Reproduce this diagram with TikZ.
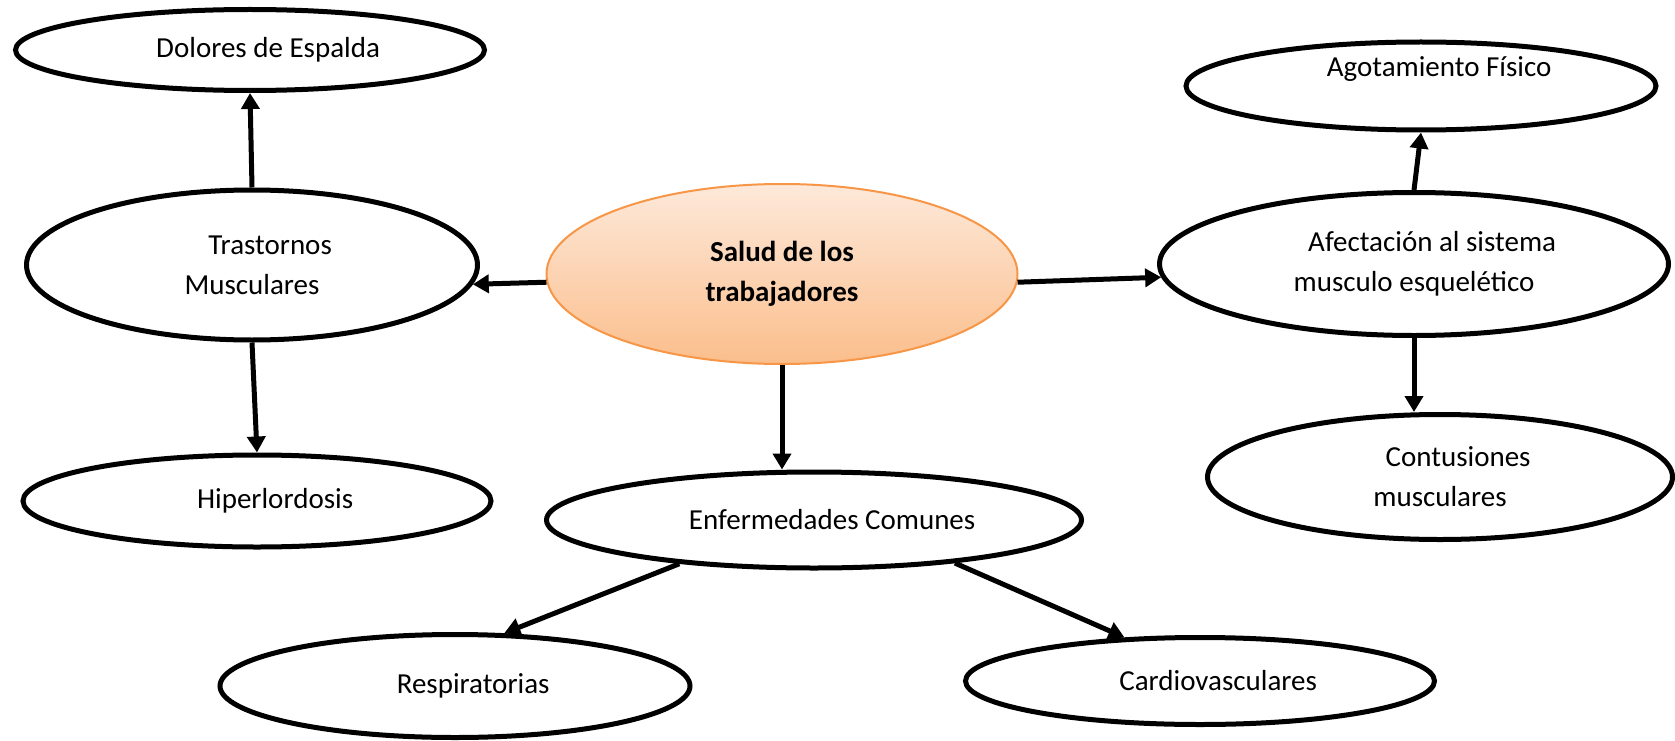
\documentclass[tikz,border=0pt]{standalone}
\usepackage{fontspec}
\setmainfont{Carlito}
\usetikzlibrary{shapes.geometric,arrows.meta}

\definecolor{saludline}{HTML}{F79646}
\definecolor{saludtop}{HTML}{FDE9DA}
\definecolor{saludbot}{HTML}{FBBE8C}
\newcommand{\lpad}{\hspace*{1.25em}}

\begin{document}
\begin{tikzpicture}[x=1pt,y=-1pt,
	oval/.style={ellipse,draw,line width=5pt,inner sep=0pt,align=center,font=\fontsize{29}{40}\selectfont},
	core/.style={oval,draw=saludline,line width=2pt,top color=saludtop,bottom color=saludbot,font=\fontsize{29}{40}\selectfont\bfseries},
	arr/.style={line width=5pt,-{Triangle[length=16pt,width=18pt]}}]
	\useasboundingbox (0,0) rectangle (1675,741);

	% centro
	\node[core,minimum width=471,minimum height=180] at (782,274) (salud) {Salud de los\\trabajadores};

	% izquierda
	\node[oval,minimum width=469,minimum height=81] at (250,50) (dol) {\lpad Dolores de Espalda};
	\node[oval,minimum width=451,minimum height=150] at (252,265) (tras) {\lpad Trastornos\\Musculares};
	\node[oval,minimum width=468,minimum height=92] at (257,501) (hip) {\lpad Hiperlordosis};

	% derecha
	\node[oval,minimum width=470,minimum height=88] at (1421,86) (agot) {\raisebox{9pt}[0pt][0pt]{\lpad Agotamiento Físico}};
	\node[oval,minimum width=509,minimum height=143] at (1414,264) (afe) {\lpad Afectación al sistema\\musculo esquelético};
	\node[oval,minimum width=465,minimum height=125] at (1440,477) (cont) {\lpad Contusiones\\musculares};

	% abajo
	\node[oval,minimum width=535,minimum height=96] at (814,520) (enf) {\lpad Enfermedades Comunes};
	\node[oval,minimum width=470,minimum height=103] at (455,686) (resp) {\lpad Respiratorias};
	\node[oval,minimum width=469,minimum height=87] at (1200,681) (card) {\lpad Cardiovasculares};

	\foreach \a/\b in {salud.182/tras.355, salud.358.5/afe.183, salud.south/salud.south |- enf.north,
		tras.north/dol.south, tras.south/hip.north, afe.north/agot.south, afe.south/afe.south |- cont.north,
		enf.198/resp.47, enf.343/card.150}
		\draw[arr] (\a) -- (\b);
\end{tikzpicture}
\end{document}
